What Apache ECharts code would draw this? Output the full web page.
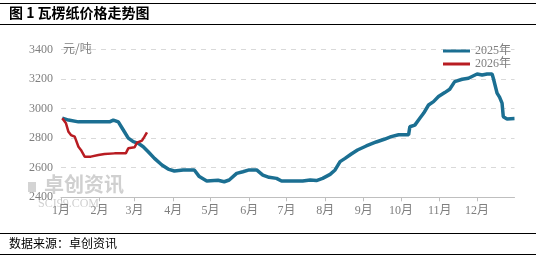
<!DOCTYPE html>
<html>
<head>
<meta charset="utf-8">
<script src="https://cdn.jsdelivr.net/npm/echarts@6/dist/echarts.min.js"></script>
<style>
html,body{margin:0;padding:0;background:#fff;}
#c{width:536px;height:257px;}
</style>
</head>
<body>
<div id="c"></div>
<script>
// Month-day positions (plotted on a common Jan–Dec axis)
var dates2025 = ['01-02','01-07','01-15','02-09','02-12','02-16','02-20','02-24','02-28','03-04','03-08','03-12','03-17','03-23','03-28','04-02','04-09','04-10','04-18','04-22','04-28','05-07','05-12','05-16','05-22','05-27','06-01','06-07','06-12','06-17','06-23','06-27','07-14','07-20','07-25','07-30','08-05','08-09','08-13','08-17','08-22','08-27','09-03','09-11','09-18','09-23','09-29','10-07','10-08','10-12','10-16','10-19','10-23','10-27','10-31','11-05','11-09','11-13','11-19','11-24','12-01','12-05','12-09','12-13','12-14','12-17','12-19','12-21','12-22','12-25','12-31'];
var values2025 = [2935,2922,2910,2910,2922,2910,2855,2800,2776,2765,2742,2708,2663,2618,2591,2578,2585,2590,2585,2540,2510,2515,2505,2517,2562,2573,2585,2585,2550,2535,2528,2510,2510,2517,2513,2528,2555,2585,2641,2663,2693,2720,2747,2774,2794,2810,2823,2823,2877,2888,2934,2968,3024,3047,3081,3108,3131,3182,3198,3205,3234,3227,3234,3234,3205,3104,3077,3037,2945,2930,2932];
var dates2026 = ['01-02','01-05','01-07','01-09','01-12','01-15','01-17','01-20','01-25','01-31','02-05','02-13','02-22','02-24','03-01','03-03','03-07','03-09','03-11'];
var values2026 = [2934,2900,2843,2821,2810,2742,2720,2675,2675,2686,2693,2697,2697,2731,2738,2769,2783,2810,2839];
var seriesNames = ['2025年','2026年'];
var yTicks = [2400,2600,2800,3000,3200,3400];
var unitLabel = '元/吨';
var titleText = '图 1 瓦楞纸价格走势图';
var sourceText = '数据来源：卓创资讯';

function pairs(ds, vs){
  return ds.map(function(d,i){ return ['2025-' + d, vs[i]]; });
}

var chart = echarts.init(document.getElementById('c'), null, {renderer:'canvas'});
var axisFont = "'Liberation Serif','Noto Sans CJK SC',serif";
chart.setOption({
  animation:false,
  backgroundColor:'#fff',
  grid:{left:61,right:21.5,top:49.4,bottom:59.7},
  legend:{
    orient:'vertical', right:20, top:40, itemGap:1,
    itemWidth:27, itemHeight:3,
    icon:'rect',
    textStyle:{color:'#7f7f7f',fontSize:12,fontFamily:axisFont},
    data:seriesNames
  },
  xAxis:{
    type:'time',
    min:'2025-01-01', max:'2025-12-31',
    minInterval:28*86400000, maxInterval:31*86400000,
    axisLine:{lineStyle:{color:'#bfbfbf',width:1}},
    axisTick:{show:true,length:4,lineStyle:{color:'#bfbfbf'}},
    splitLine:{show:false},
    axisLabel:{
      color:'#7f7f7f',fontSize:12,fontFamily:axisFont,margin:8,
      formatter:function(v){ return (new Date(v).getMonth()+1)+'月'; },
      showMinLabel:true, showMaxLabel:false
    }
  },
  yAxis:{
    type:'value', min:yTicks[0], max:yTicks[yTicks.length-1], interval:200,
    axisLine:{show:false}, axisTick:{show:false},
    splitLine:{lineStyle:{color:'#d9d9d9',type:[5,5],width:1}},
    axisLabel:{color:'#7f7f7f',fontSize:12,fontFamily:axisFont,margin:8,
      formatter:function(v){ return String(v); }}
  },
  graphic:[
    {type:'line',shape:{x1:0,y1:3.5,x2:536,y2:3.5},style:{stroke:'#000',lineWidth:1}},
    {type:'line',shape:{x1:0,y1:24.5,x2:536,y2:24.5},style:{stroke:'#000',lineWidth:1}},
    {type:'text',left:9,top:6,style:{text:titleText,fill:'#000',font:"bold 14px 'Noto Sans CJK SC'"}},
    {type:'line',shape:{x1:0,y1:233.5,x2:536,y2:233.5},style:{stroke:'#000',lineWidth:1}},
    {type:'line',shape:{x1:0,y1:254.5,x2:536,y2:254.5},style:{stroke:'#000',lineWidth:1}},
    {type:'text',left:9,top:237,style:{text:sourceText,fill:'#000',font:"12px 'Noto Sans CJK SC'"}},
    {type:'text',left:63,top:42,style:{text:unitLabel,fill:'#7f7f7f',font:"12px 'Noto Sans CJK SC'"}},
    {type:'rect',shape:{x:28,y:182,width:8,height:10},style:{fill:'#d4d4d4'}},
    {type:'text',left:44,top:174,style:{text:'卓创资讯',fill:'#d0d0d0',font:"bold 20px 'Noto Sans CJK SC'"}},
    {type:'text',left:38,top:198,style:{text:'SCI99.COM',fill:'#d0d0d0',font:"12px 'Liberation Serif'"}}
  ],
  series:[
    {name:seriesNames[0],type:'line',showSymbol:false,symbol:'none',
     data:pairs(dates2025,values2025),
     lineStyle:{color:'#1b6f92',width:3.5},itemStyle:{color:'#1b6f92'},z:2},
    {name:seriesNames[1],type:'line',showSymbol:false,symbol:'none',
     data:pairs(dates2026,values2026),
     lineStyle:{color:'#b81c22',width:2.5},itemStyle:{color:'#b81c22'},z:3}
  ]
});
</script>
</body>
</html>
